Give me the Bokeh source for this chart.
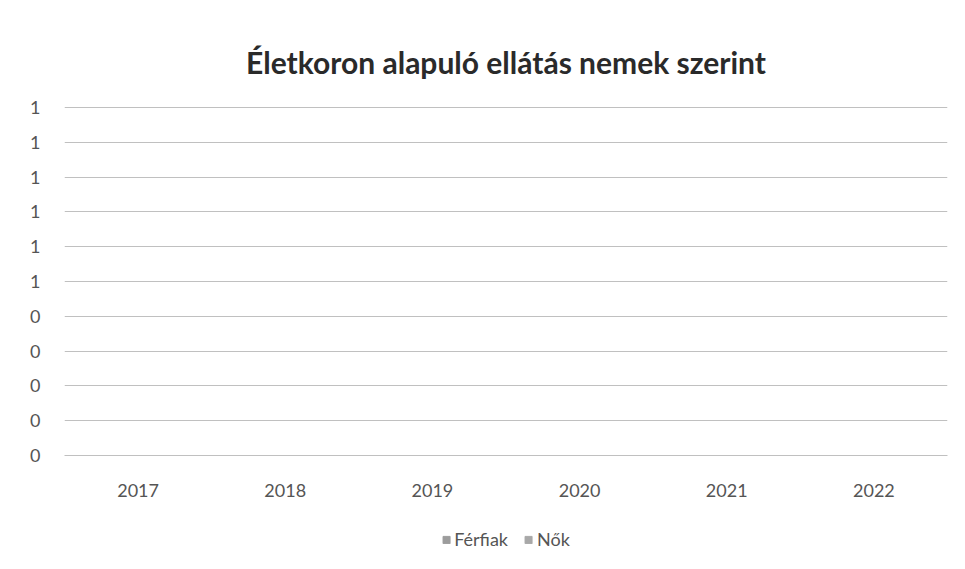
from bokeh.plotting import figure
from bokeh.layouts import column
from bokeh.models import ColumnDataSource, FixedTicker, CustomJSTickFormatter, Legend, LegendItem, FactorRange, Range1d
from bokeh.transform import dodge
from bokeh.embed import file_html
from bokeh.resources import INLINE

years = ["2017", "2018", "2019", "2020", "2021", "2022"]
ferfiak = [0, 0, 0, 0, 0, 0]
nok = [0, 0, 0, 0, 0, 0]
y_ticks = [0, 0.1, 0.2, 0.3, 0.4, 0.5, 0.6, 0.7, 0.8, 0.9, 1.0]
series_colors = ["#9c9c9c", "#a8a8a8"]

src = ColumnDataSource(dict(year=years, ferfiak=ferfiak, nok=nok))

W = 955
p = figure(x_range=FactorRange(*years), y_range=Range1d(0, 1.003),
           width=W, height=515, output_backend="svg", toolbar_location=None,
           title="Életkoron alapuló ellátás nemek szerint",
           min_border_left=64, min_border_right=8, min_border_top=106, min_border_bottom=60)

r1 = p.vbar(x=dodge("year", -0.17, range=p.x_range), top="ferfiak", width=0.3, source=src,
            color=series_colors[0])
r2 = p.vbar(x=dodge("year", 0.17, range=p.x_range), top="nok", width=0.3, source=src,
            color=series_colors[1])

p.title.align = "center"
p.title.text_font = "Lato"
p.title.text_font_size = "30px"
p.title.text_font_style = "bold"
p.title.text_color = "#2a2a2a"
p.title.standoff = 53

p.outline_line_color = None
p.xgrid.grid_line_color = None
p.ygrid.grid_line_color = "#c0c0c0"
p.ygrid.grid_line_width = 1
p.yaxis.ticker = FixedTicker(ticks=y_ticks)
p.yaxis.formatter = CustomJSTickFormatter(code="return Math.round(tick).toString();")

for ax in (p.xaxis, p.yaxis):
    ax.major_tick_line_color = None
    ax.minor_tick_line_color = None
    ax.major_label_text_font = "Lato"
    ax.major_label_text_font_size = "18px"
    ax.major_label_text_color = "#555555"
p.yaxis.axis_line_color = None
p.xaxis.axis_line_color = "#c0c0c0"
p.yaxis.major_label_standoff = 18
p.xaxis.major_label_standoff = 22

# legend strip below the chart
p2 = figure(x_range=Range1d(0, 1), y_range=Range1d(0, 1), width=W, height=48,
            output_backend="svg", toolbar_location=None,
            min_border=0, min_border_left=0, min_border_right=0, min_border_top=0, min_border_bottom=0)
p2.axis.visible = False
p2.grid.visible = False
p2.outline_line_color = None
src2 = ColumnDataSource(dict(x=[0.5], y=[0.0]))
g1 = p2.vbar(x="x", top="y", width=0.01, source=src2, color=series_colors[0])
g2 = p2.vbar(x="x", top="y", width=0.01, source=src2, color=series_colors[1])

legend = Legend(items=[LegendItem(label="Férfiak", renderers=[g1]),
                       LegendItem(label="Nők", renderers=[g2])],
                orientation="horizontal", location="center",
                label_text_font="Lato", label_text_font_size="18px", label_text_color="#555555",
                glyph_width=9, glyph_height=9, spacing=16, border_line_color=None,
                background_fill_alpha=0, label_standoff=4, margin=0, padding=2)
p2.add_layout(legend, "center")

layout = column(p, p2, spacing=0)
open("out.html", "w").write(file_html(layout, INLINE))
